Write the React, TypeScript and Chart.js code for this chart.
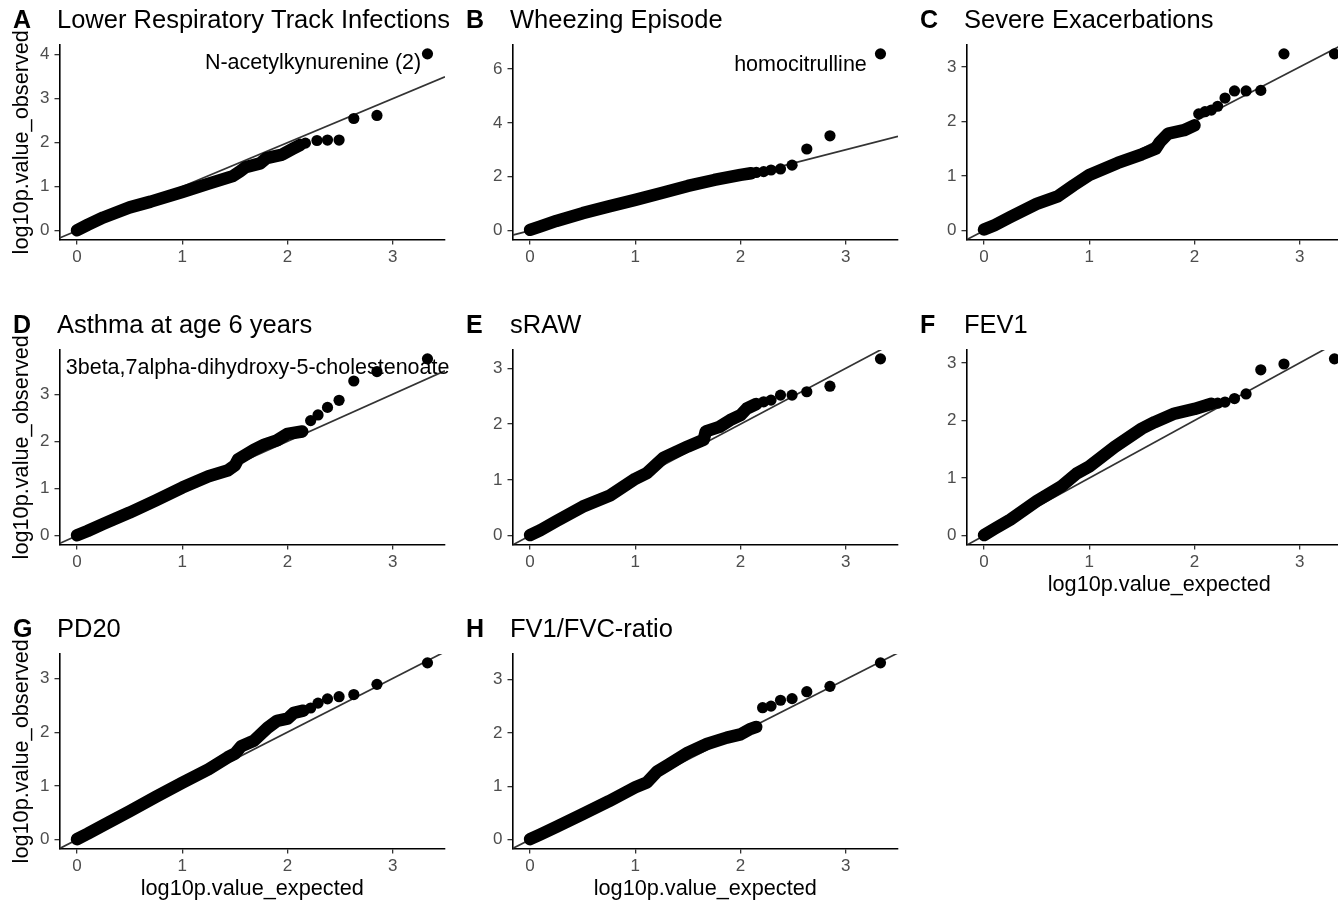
import React, { useEffect, useRef } from "react";
import { Chart, registerables } from "chart.js";

Chart.register(...registerables);

// ---------- data ----------
const panelLetters = ["A", "B", "C", "D", "E", "F", "G", "H"];
const panelTitles = [
  "Lower Respiratory Track Infections",
  "Wheezing Episode",
  "Severe Exacerbations",
  "Asthma at age 6 years",
  "sRAW",
  "FEV1",
  "PD20",
  "FV1/FVC-ratio",
];
const xTickValues = [0, 1, 2, 3];
const yTicksA = [0, 1, 2, 3, 4];
const yTicksB = [0, 2, 4, 6];
const yTicksOther = [0, 1, 2, 3];
const expectedMax = 3.33;
const xAxisLabel = "log10p.value_expected";
const yAxisLabel = "log10p.value_observed";

// dense part of each QQ curve (expected, observed)
const bandA = [[0, 0.01], [0.1, 0.13], [0.25, 0.3], [0.5, 0.53], [0.7, 0.66], [1.0, 0.88], [1.25, 1.07], [1.48, 1.24], [1.55, 1.35], [1.6, 1.44], [1.74, 1.53], [1.8, 1.65], [1.95, 1.73], [2.05, 1.86], [2.12, 1.95]];
const bandB = [[0, 0.03], [0.1, 0.16], [0.25, 0.36], [0.5, 0.65], [0.75, 0.9], [1.0, 1.14], [1.25, 1.4], [1.5, 1.66], [1.75, 1.88], [2.0, 2.07], [2.1, 2.13]];
const bandC = [[0, 0.02], [0.1, 0.1], [0.25, 0.25], [0.5, 0.49], [0.7, 0.63], [0.85, 0.83], [1.0, 1.02], [1.27, 1.24], [1.5, 1.4], [1.63, 1.5], [1.67, 1.62], [1.75, 1.78], [1.9, 1.84], [2.0, 1.93]];
const bandD = [[0, 0.01], [0.1, 0.1], [0.25, 0.25], [0.5, 0.49], [0.75, 0.75], [1.0, 1.02], [1.25, 1.26], [1.43, 1.38], [1.5, 1.49], [1.53, 1.62], [1.68, 1.82], [1.78, 1.93], [1.9, 2.02], [2.0, 2.16], [2.14, 2.21]];
const bandE = [[0, 0.01], [0.1, 0.1], [0.25, 0.26], [0.5, 0.52], [0.76, 0.72], [1.0, 1.02], [1.11, 1.12], [1.27, 1.4], [1.5, 1.6], [1.65, 1.72], [1.67, 1.87], [1.8, 1.95], [1.9, 2.07], [2.0, 2.16], [2.06, 2.28], [2.15, 2.36]];
const bandF = [[0, 0.01], [0.1, 0.12], [0.25, 0.28], [0.5, 0.6], [0.73, 0.85], [0.88, 1.08], [1.0, 1.2], [1.24, 1.54], [1.5, 1.86], [1.62, 1.97], [1.81, 2.12], [2.0, 2.2], [2.16, 2.29]];
const bandG = [[0, 0.01], [0.1, 0.11], [0.25, 0.27], [0.5, 0.53], [0.75, 0.8], [1.0, 1.06], [1.25, 1.31], [1.43, 1.53], [1.5, 1.6], [1.56, 1.74], [1.68, 1.84], [1.81, 2.08], [1.9, 2.21], [2.0, 2.25], [2.06, 2.36], [2.15, 2.4]];
const bandH = [[0, 0.01], [0.1, 0.1], [0.25, 0.24], [0.5, 0.48], [0.75, 0.72], [1.0, 0.98], [1.11, 1.07], [1.21, 1.28], [1.32, 1.41], [1.5, 1.63], [1.68, 1.79], [1.87, 1.91], [2.0, 1.97], [2.09, 2.07], [2.15, 2.11]];

// separate top points of each curve (expected, observed)
const tailA = [[2.17, 1.99], [2.28, 2.05], [2.38, 2.06], [2.49, 2.06], [2.63, 2.55], [2.85, 2.62], [3.33, 4.02]];
const tailB = [[2.15, 2.16], [2.22, 2.19], [2.29, 2.25], [2.38, 2.29], [2.49, 2.43], [2.63, 3.03], [2.85, 3.52], [3.33, 6.56]];
const tailC = [[2.04, 2.14], [2.1, 2.18], [2.16, 2.21], [2.22, 2.28], [2.29, 2.43], [2.38, 2.56], [2.49, 2.56], [2.63, 2.57], [2.85, 3.24], [3.33, 3.24]];
const tailD = [[2.22, 2.44], [2.29, 2.56], [2.38, 2.72], [2.49, 2.87], [2.63, 3.28], [2.85, 3.48], [3.33, 3.75]];
const tailE = [[2.22, 2.4], [2.29, 2.43], [2.38, 2.52], [2.49, 2.52], [2.63, 2.58], [2.85, 2.68], [3.33, 3.17]];
const tailF = [[2.22, 2.3], [2.29, 2.32], [2.38, 2.38], [2.49, 2.46], [2.63, 2.88], [2.85, 2.98], [3.33, 3.07]];
const tailG = [[2.22, 2.45], [2.29, 2.54], [2.38, 2.62], [2.49, 2.66], [2.63, 2.7], [2.85, 2.89], [3.33, 3.29]];
const tailH = [[2.21, 2.47], [2.29, 2.5], [2.38, 2.61], [2.49, 2.64], [2.63, 2.77], [2.85, 2.87], [3.33, 3.31]];

const noteTexts = ["N-acetylkynurenine (2)", "homocitrulline", "", "3beta,7alpha-dihydroxy-5-cholestenoate", "", "", "", ""];

// ---------- layout / style ----------
const FONT = "'Liberation Sans', Arial, Helvetica, sans-serif";
const CANVAS_W = 453;
const CANVAS_H = 305;
const COL_LEFT = [0, 453, 907];
const ROW_TOP = [0, 305, 609];
const NOTE_ANCHORS: Record<number, { x: number; y: number; align: CanvasTextAlign }> = {
  0: { x: 3.27, y: 3.82, align: "right" },
  1: { x: 3.2, y: 6.13, align: "right" },
  3: { x: -0.107, y: 3.56, align: "left" },
};

const bands = [bandA, bandB, bandC, bandD, bandE, bandF, bandG, bandH];
const tails = [tailA, tailB, tailC, tailD, tailE, tailF, tailG, tailH];
const yTickSets = [yTicksA, yTicksB, yTicksOther, yTicksOther, yTicksOther, yTicksOther, yTicksOther, yTicksOther];

const panelTextPlugin = {
  id: "panelText",
  afterDraw(chart: any, _args: any, opts: any) {
    const { ctx } = chart;
    ctx.save();
    ctx.fillStyle = "#000";
    ctx.textBaseline = "middle";
    ctx.textAlign = "left";
    ctx.font = `bold 25px ${FONT}`;
    ctx.fillText(opts.letter, 13, 21);
    ctx.font = `25.5px ${FONT}`;
    ctx.fillText(opts.title, 57, 21);
    if (opts.note && opts.anchor) {
      const px = chart.scales.x.getPixelForValue(opts.anchor.x);
      const py = chart.scales.y.getPixelForValue(opts.anchor.y);
      ctx.font = `21.5px ${FONT}`;
      ctx.textAlign = opts.anchor.align;
      ctx.fillText(opts.note, px, py);
    }
    ctx.restore();
  },
};

function Panel({ index }: { index: number }) {
  const ref = useRef<HTMLCanvasElement | null>(null);
  const col = index % 3;
  const row = Math.floor(index / 3);

  useEffect(() => {
    if (!ref.current) return;
    const band = bands[index];
    const tail = tails[index];
    const yTicks = yTickSets[index];
    const xMin = -0.05 * expectedMax;
    const xMax = expectedMax * 1.05;
    const obsMax = Math.max(...tail.map((p) => p[1]));
    const yMin = -0.05 * obsMax;
    const yMax = obsMax * 1.05;
    const showY = col === 0;
    const showX = index >= 5;

    const chart = new Chart(ref.current, {
      type: "scatter",
      data: {
        datasets: [
          {
            type: "scatter",
            data: tail.map(([x, y]) => ({ x, y })),
            pointRadius: 5.6,
            pointHoverRadius: 5.6,
            backgroundColor: "#000",
            borderWidth: 0,
            clip: false,
            order: 0,
          } as any,
          {
            type: "line",
            data: band.map(([x, y]) => ({ x, y })),
            borderColor: "#000",
            borderWidth: 12.5,
            pointRadius: 0,
            borderCapStyle: "round",
            borderJoinStyle: "round",
            tension: 0,
            clip: false,
            order: 1,
          } as any,
          {
            type: "line",
            data: [
              { x: xMin, y: xMin },
              { x: xMax, y: xMax },
            ],
            borderColor: "#333333",
            borderWidth: 1.7,
            pointRadius: 0,
            clip: 0,
            order: 2,
          } as any,
        ],
      },
      options: {
        animation: false,
        responsive: false,
        devicePixelRatio: 1,
        layout: { padding: { top: 45, right: 8, bottom: 10.5, left: 0 } },
        plugins: {
          legend: { display: false },
          tooltip: { enabled: false },
          title: { display: false },
          panelText: {
            letter: panelLetters[index],
            title: panelTitles[index],
            note: noteTexts[index],
            anchor: NOTE_ANCHORS[index],
          },
        } as any,
        scales: {
          x: {
            type: "linear",
            min: xMin,
            max: xMax,
            afterBuildTicks: (s: any) => {
              s.ticks = xTickValues.map((v) => ({ value: v }));
            },
            afterFit: (s: any) => {
              s.height = 55;
            },
            grid: { display: true, drawOnChartArea: false, drawTicks: true, tickLength: 5, color: "#333333", lineWidth: 1.3 },
            border: { display: true, color: "#000", width: 1.6 },
            ticks: { color: "#4d4d4d", font: { family: FONT, size: 17 }, padding: 3, maxRotation: 0, autoSkip: false, callback: (v: any) => String(v) },
            title: { display: showX, text: xAxisLabel, color: "#000", font: { family: FONT, size: 21.7 }, padding: { top: 0, bottom: 1 } },
          },
          y: {
            type: "linear",
            min: yMin,
            max: yMax,
            afterBuildTicks: (s: any) => {
              s.ticks = yTicks.map((v) => ({ value: v }));
            },
            afterFit: (s: any) => {
              s.width = 59.5;
            },
            grid: { display: true, drawOnChartArea: false, drawTicks: true, tickLength: 5, color: "#333333", lineWidth: 1.3 },
            border: { display: true, color: "#000", width: 1.6 },
            ticks: { color: "#4d4d4d", font: { family: FONT, size: 17 }, padding: 5, autoSkip: false, callback: (v: any) => String(v) },
            title: { display: showY, text: yAxisLabel, color: "#000", font: { family: FONT, size: 21.7 }, padding: { top: 9, bottom: 0 } },
          },
        },
      },
      plugins: [panelTextPlugin as any],
    });
    return () => chart.destroy();
  }, [index]);

  return (
    <canvas
      ref={ref}
      width={CANVAS_W}
      height={CANVAS_H}
      style={{ position: "absolute", left: COL_LEFT[col], top: ROW_TOP[row], width: CANVAS_W, height: CANVAS_H }}
    />
  );
}

export default function App() {
  return (
    <div
      style={{
        position: "fixed",
        left: 0,
        top: 0,
        width: 1338,
        height: 906,
        overflow: "hidden",
        background: "#fff",
      }}
    >
      {panelTitles.map((_, i) => (
        <Panel key={i} index={i} />
      ))}
    </div>
  );
}
